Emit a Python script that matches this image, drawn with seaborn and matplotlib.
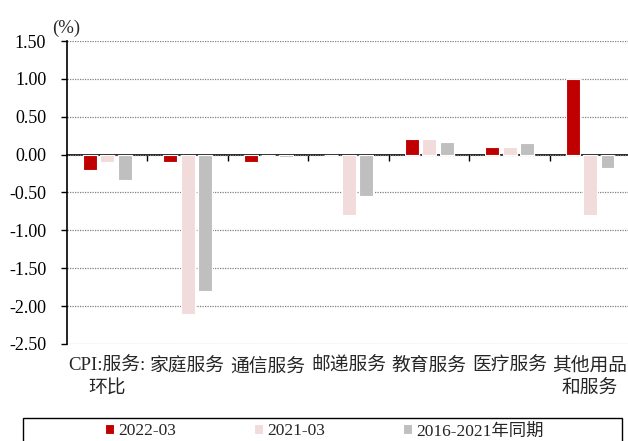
import pandas as pd
import matplotlib.pyplot as plt
import matplotlib.ticker as mticker
from matplotlib.patches import Rectangle
import seaborn as sns

# 数据
categories = ['CPI:服务:\n环比', '家庭服务', '通信服务', '邮递服务', '教育服务', '医疗服务', '其他用品\n和服务']
series_names = ['2022-03', '2021-03', '2016-2021年同期']
v_2022 = [-0.20, -0.10, -0.10, 0.00, 0.20, 0.10, 1.00]
v_2021 = [-0.10, -2.10, 0.00, -0.80, 0.20, 0.10, -0.80]
v_avg = [-0.33, -1.80, -0.03, -0.55, 0.17, 0.15, -0.18]
colors = ['#C00000', '#F2DCDB', '#BFBFBF']
y_ticks = [1.5, 1.0, 0.5, 0.0, -0.5, -1.0, -1.5, -2.0, -2.5]

sns.set_style('white')
plt.rcParams['font.family'] = ['Liberation Serif', 'Noto Sans CJK SC']
plt.rcParams['axes.unicode_minus'] = False

df = pd.DataFrame({
    'cat': categories * 3,
    'series': [series_names[0]] * 7 + [series_names[1]] * 7 + [series_names[2]] * 7,
    'value': v_2022 + v_2021 + v_avg,
})

fig = plt.figure(figsize=(6.28, 4.41), dpi=100)
ax = fig.add_axes([0.1067, 0.22, 0.897, 0.687])

sns.barplot(data=df, x='cat', y='value', hue='series', order=categories,
            hue_order=series_names, palette=dict(zip(series_names, colors)),
            width=0.65, gap=0.2, edgecolor='white', linewidth=0.8,
            saturation=1, errorbar=None, ax=ax)

ax.set_xlim(-0.5, len(categories) - 0.5)
ax.set_ylim(-2.5, 1.5)
ax.set_yticks(y_ticks)
ax.yaxis.set_major_formatter(mticker.StrMethodFormatter('{x:.2f}'))
ax.yaxis.grid(True, linestyle=(0, (1, 1)), color='#808080', linewidth=0.9)
ax.set_axisbelow(True)
for s in ['top', 'right', 'bottom']:
    ax.spines[s].set_visible(False)
ax.spines['left'].set_color('black')
ax.spines['left'].set_linewidth(1.2)
ax.tick_params(axis='y', direction='out', length=4, width=1, colors='black',
               labelsize=13, pad=11, left=True)
ax.tick_params(axis='x', length=0, labelsize=13.5, pad=10)
for lbl in ax.get_xticklabels():
    lbl.set_linespacing(1.45)
ax.set_xlabel('')
ax.set_ylabel('')

# 零轴及分隔刻度
secax = ax.secondary_xaxis(0, transform=ax.transData)
secax.set_xticks([i + 0.5 for i in range(len(categories) - 1)], labels=[])
secax.tick_params(direction='out', length=4.5, width=1, colors='black')
secax.spines['bottom'].set_linewidth(1.2)
secax.spines['bottom'].set_color('black')

# 图例
handles, labels = ax.get_legend_handles_labels()
if ax.get_legend() is not None:
    ax.get_legend().remove()
fig.legend(handles, labels, loc='center', bbox_to_anchor=(0.516, 0.022), ncol=3,
           frameon=False, fontsize=12.5, handlelength=0.55, handleheight=0.55,
           handletextpad=0.2, columnspacing=4.5, borderaxespad=0)
fig.add_artist(Rectangle((23 / 628, -0.05), 599 / 628, 0.05 + (1 - 418 / 441),
                         transform=fig.transFigure, fill=False,
                         edgecolor='black', linewidth=1))

fig.text(52 / 628, 1 - 28 / 441, '(%)', fontsize=13.5, ha='left', va='center')

fig.savefig('out.png', dpi=100)
